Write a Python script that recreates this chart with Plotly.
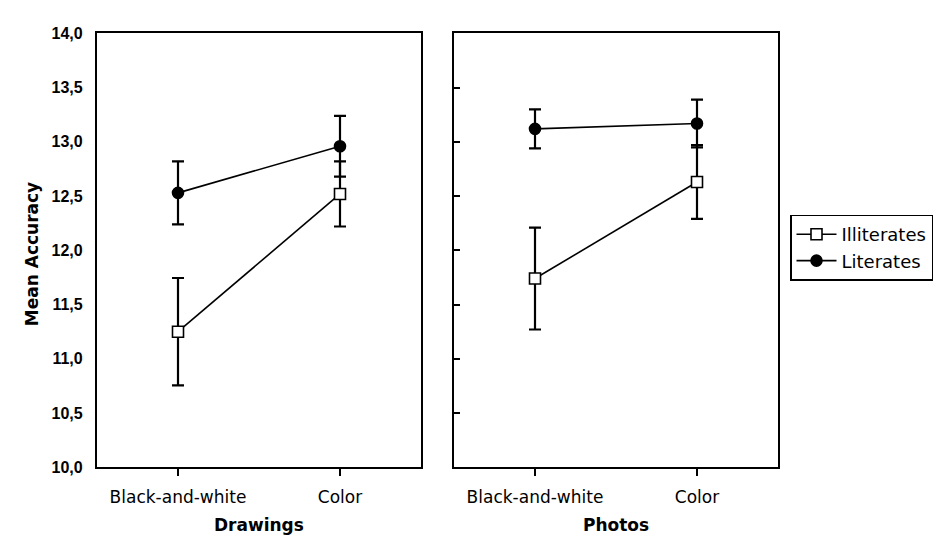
import plotly.graph_objects as go

categories = ["Black-and-white", "Color"]
panels = ["Drawings", "Photos"]

# Drawings panel
draw_illit = [11.25, 12.52]
draw_illit_err = [0.495, 0.30]
draw_lit = [12.53, 12.96]
draw_lit_err = [0.29, 0.28]

# Photos panel
photo_illit = [11.74, 12.63]
photo_illit_err = [0.47, 0.34]
photo_lit = [13.12, 13.17]
photo_lit_err = [0.18, 0.22]

y_ticks = [10.0, 10.5, 11.0, 11.5, 12.0, 12.5, 13.0, 13.5, 14.0]

FONT = "DejaVu Sans, Liberation Sans, sans-serif"
BFONT = "Liberation Sans, Arial, sans-serif"
xpos = list(range(len(categories)))

fig = go.Figure()

def add_series(name, y, err, xa, ya, symbol, fill, show):
    fig.add_trace(go.Scatter(
        x=xpos, y=y, name=name, xaxis=xa, yaxis=ya,
        mode="lines+markers",
        line=dict(color="black", width=1.6),
        marker=dict(symbol=symbol, size=11, color=fill,
                    line=dict(color="black", width=1.6)),
        error_y=dict(type="data", array=err, symmetric=True,
                     color="black", thickness=2.2, width=6),
        showlegend=show,
    ))

add_series("Illiterates", draw_illit, draw_illit_err, "x", "y", "square", "white", True)
add_series("Literates", draw_lit, draw_lit_err, "x", "y", "circle", "black", True)
add_series("Illiterates", photo_illit, photo_illit_err, "x2", "y2", "square", "white", False)
add_series("Literates", photo_lit, photo_lit_err, "x2", "y2", "circle", "black", False)

W, H = 945, 537
ydom = [(H - 466) / H, (H - 18) / H]
xdom1 = [89 / W, 413 / W]
xdom2 = [446 / W, 770 / W]

common_x = dict(range=[-0.5, 1.5], tickvals=xpos, ticktext=categories,
                showgrid=False, zeroline=False, showline=True, linecolor="black",
                linewidth=2.2, mirror=True, ticks="outside", ticklen=7,
                tickwidth=2, tickcolor="black", ticklabelstandoff=6,
                tickfont=dict(family=FONT, size=17, color="black"))
common_y = dict(range=[10, 14], tickvals=y_ticks, tickformat=".1f",
                showgrid=False, zeroline=False, showline=True, linecolor="black",
                linewidth=2.2, mirror=True, domain=ydom)

fig.update_layout(
    width=W, height=H,
    margin=dict(l=0, r=0, t=0, b=0),
    paper_bgcolor="white", plot_bgcolor="white",
    separators=",.",
    xaxis=dict(domain=xdom1, anchor="y", **common_x),
    xaxis2=dict(domain=xdom2, anchor="y2", **common_x),
    yaxis=dict(anchor="x", ticks="", ticklabelstandoff=9,
               tickfont=dict(family=BFONT, size=16, color="black", weight="bold"),
               **common_y),
    yaxis2=dict(anchor="x2", ticks="inside", ticklen=6, tickwidth=2,
                tickcolor="black", showticklabels=False, **common_y),
    legend=dict(x=782 / W, y=(H - 205) / H, xanchor="left", yanchor="top",
                bordercolor="black", borderwidth=1.5, bgcolor="white",
                font=dict(family=FONT, size=18, color="black"),
                itemwidth=40, tracegroupgap=0),
    showlegend=True,
)

for txt, dom in zip(panels, [xdom1, xdom2]):
    fig.add_annotation(xref="paper", yref="paper", showarrow=False,
                       x=(dom[0] + dom[1]) / 2, y=(H - 526) / H,
                       text="<b>" + txt + "</b>",
                       xanchor="center", yanchor="middle",
                       font=dict(family=FONT, size=17, color="black"))
fig.add_annotation(xref="paper", yref="paper", x=24 / W, y=(H - 246) / H,
                   text="<b>Mean Accuracy</b>", textangle=-90, showarrow=False,
                   xanchor="center", yanchor="middle",
                   font=dict(family=FONT, size=17, color="black"))

fig.write_html("out.html")
